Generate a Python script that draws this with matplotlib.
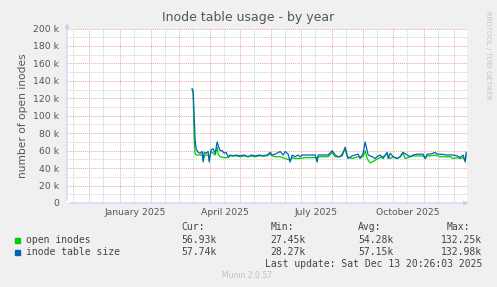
import matplotlib
matplotlib.use('Agg')
import matplotlib.pyplot as plt
import matplotlib.dates as mdates
from matplotlib.patches import Rectangle
import numpy as np

# days since 2025-01-01, values in thousands
open_days = [72, 73, 74, 75, 77, 80, 82, 83, 85, 88, 89, 91, 93, 95, 97, 98, 100, 104, 108, 110,
             113, 116, 120, 124, 128, 131, 135, 139, 143, 147, 150, 152, 155,
             160, 165, 170, 172, 175, 180, 185, 190, 197, 200, 208, 212, 215, 220, 225, 227,
             232, 238, 243, 245, 247, 248, 250, 252, 255, 258, 260, 263, 267, 268, 270, 273,
             277, 280, 283, 285, 290, 293, 297, 303, 305, 307, 310, 315, 320, 325, 330, 333,
             337, 340, 343, 345, 346]
open_vals = [130, 126, 75, 56, 55, 55, 55, 50, 55, 55, 51, 59, 57, 55, 64, 56, 53, 52, 52, 54,
             54, 54, 53, 54, 53, 54, 53, 54, 54, 54, 56, 54, 53,
             53, 51, 49, 52, 51, 51, 52, 52, 52, 53, 53, 58, 53, 53, 62, 53,
             51, 53, 53, 60, 51, 49, 46, 47, 49, 51, 52, 53, 57, 53, 51, 53,
             51, 53, 57, 51, 53, 54, 54, 54, 51, 54, 54, 55, 53, 53, 53, 51,
             52, 51, 52, 49, 55]

size_days = [72, 73, 74, 75, 76, 78, 80, 82, 83, 84, 86, 88, 89, 91, 93, 95, 97, 98, 100, 102,
             104, 106, 108, 110, 113, 116, 120, 124, 128, 131, 135, 139, 143, 147, 150, 152, 155,
             160, 163, 165, 168, 170, 172, 175, 178, 180, 182, 188, 195, 197, 198, 208, 212, 215,
             218, 222, 225, 227, 228, 232, 235, 238, 240, 243, 245, 247, 248, 252, 255,
             258, 260, 263, 267, 268, 270, 273, 277, 280, 282, 283, 287, 290, 293, 297, 303,
             305, 307, 310, 315, 317, 320, 327, 333, 337, 340, 343, 345, 346]
size_vals = [131, 128, 100, 72, 62, 58, 57, 59, 47, 58, 57, 59, 47, 61, 62, 57, 70, 66, 60, 60,
             57, 58, 53, 55, 54, 55, 54, 55, 53, 55, 54, 55, 54, 55, 58, 55, 56,
             59, 55, 59, 56, 47, 55, 53, 55, 53, 55, 55, 55, 47, 55, 55, 60, 55,
             53, 54, 64, 55, 51, 54, 55, 56, 51, 57, 70, 60, 55, 53, 51,
             54, 55, 51, 58, 51, 57, 53, 51, 53, 57, 58, 55, 53, 55, 56, 56,
             51, 56, 56, 58, 56, 56, 55, 55, 54, 52, 55, 47, 58]

y_ticks = [0, 20, 40, 60, 80, 100, 120, 140, 160, 180, 200]
y_labels = ['0', '20 k', '40 k', '60 k', '80 k', '100 k', '120 k', '140 k', '160 k', '180 k', '200 k']
x_label_dates = ['2025-01-16', '2025-04-16', '2025-07-16', '2025-10-16']
x_labels = ['January 2025', 'April 2025', 'July 2025', 'October 2025']

legend_names = ['open inodes', 'inode table size']
legend_colors = ['#00CC00', '#0066B3']
cur = ['56.93k', '57.74k']
mins = ['27.45k', '28.27k']
avgs = ['54.28k', '57.15k']
maxs = ['132.25k', '132.98k']

W, H = 497, 287
fig = plt.figure(figsize=(W / 100, H / 100), dpi=100, facecolor='#F0F0F0')
ax = fig.add_axes([67 / W, (H - 203) / H, 400 / W, 174.5 / H])
ax.set_facecolor('white')

base = np.datetime64('2025-01-01')
t_open = base + np.array(open_days, dtype='timedelta64[D]')
t_size = base + np.array(size_days, dtype='timedelta64[D]')

start = np.datetime64('2024-11-08T20:26')
end = np.datetime64('2025-12-13T20:26')
ax.set_xlim(start, end)
ax.set_ylim(0, 200)

red = '#E8A8A8'
gray = '#CFCFCF'
dot = (0, (1, 1))
for v in range(10, 200, 20):
    ax.axhline(v, color=gray, lw=0.7, ls=dot, zorder=1)
for v in y_ticks[1:]:
    ax.axhline(v, color=red, lw=0.7, ls=dot, zorder=1)
months = np.arange(np.datetime64('2024-12'), np.datetime64('2026-01'), dtype='datetime64[M]')
for m in months:
    ax.axvline(m.astype('datetime64[D]') + np.timedelta64(14, 'D'), color=gray, lw=0.7, ls=dot, zorder=1)
    ax.axvline(m.astype('datetime64[D]'), color=red, lw=0.7, ls=dot, zorder=1)
ax.axvline(np.datetime64('2024-11-15'), color=gray, lw=0.7, ls=dot, zorder=1)

ax.plot(t_open, open_vals, color=legend_colors[0], lw=0.9, zorder=3)
ax.plot(t_size, size_vals, color=legend_colors[1], lw=0.9, zorder=4)

for s in ax.spines.values():
    s.set_visible(False)
axis_col = '#C8CEF2'
ax.annotate('', xy=(1 + 4 / 400, 0), xytext=(0, 0), xycoords='axes fraction',
            arrowprops=dict(arrowstyle='-|>', color=axis_col, lw=0.8, mutation_scale=6), zorder=5)
ax.annotate('', xy=(0, 1 + 8 / 174.5), xytext=(0, 0), xycoords='axes fraction',
            arrowprops=dict(arrowstyle='-|>', color=axis_col, lw=0.8, mutation_scale=6), zorder=5)

ax.set_yticks(y_ticks, y_labels)
ax.set_xticks([np.datetime64(d) for d in x_label_dates], x_labels)
ax.tick_params(axis='y', length=0, pad=5.5, labelsize=6.7, labelcolor='#555555')
ax.tick_params(axis='x', length=0, pad=3.5, labelsize=6.7, labelcolor='#555555')
ax.set_ylabel('number of open inodes', fontsize=7.7, color='#555555', labelpad=4)

fig.text(248 / W, 1 - 18 / H, 'Inode table usage - by year', ha='center', va='center',
         fontsize=9, color='#555555')
fig.text(488 / W, 1 - 55 / H, 'RRDTOOL / TOBI OETIKER', rotation=270, ha='center', va='center',
         fontsize=5, color='#C4C4C4')

mono = dict(family='DejaVu Sans Mono', fontsize=7, color='#444444', va='center')
fy = lambda y: 1 - y / H
fig.text(181 / W, fy(227), 'Cur:', **mono)
fig.text(271 / W, fy(227), 'Min:', **mono)
fig.text(358 / W, fy(227), 'Avg:', **mono)
fig.text(447 / W, fy(227), 'Max:', **mono)
for i, yy in enumerate([240, 252.3]):
    fig.add_artist(Rectangle((15 / W, fy(yy + 2.5)), 5 / W, 5 / H, color=legend_colors[i],
                             transform=fig.transFigure))
    fig.text(26 / W, fy(yy), legend_names[i], **mono)
    fig.text(181 / W, fy(yy), cur[i], **mono)
    fig.text(270 / W, fy(yy), mins[i], **mono)
    fig.text(358 / W, fy(yy), avgs[i], **mono)
    fig.text(482 / W, fy(yy), maxs[i], ha='right', **{k: v for k, v in mono.items() if k != 'ha'})
fig.text(482 / W, fy(264.3), 'Last update: Sat Dec 13 20:26:03 2025', ha='right', **mono)
fig.text(247 / W, fy(276), 'Munin 2.0.57', ha='center', va='center', fontsize=5.5, color='#C0C0C0')

fig.savefig('out.png', dpi=100, facecolor='#F0F0F0')
